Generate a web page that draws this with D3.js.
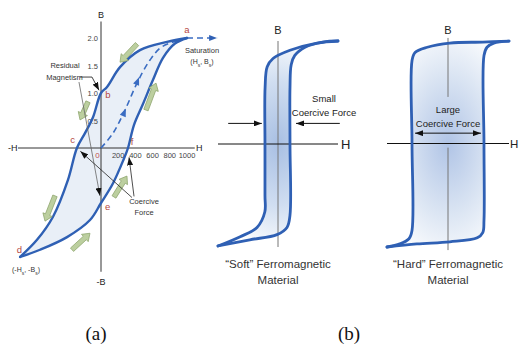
<!DOCTYPE html>
<html>
<head>
<meta charset="utf-8">
<script src="https://cdn.jsdelivr.net/npm/d3@7"></script>
<style>
  body { margin: 0; background: #fff; }
  svg { display: block; }
  .narrow { font-family: "Liberation Sans Narrow", "Liberation Sans", Arial, sans-serif; }
  .sans { font-family: "Liberation Sans", Arial, sans-serif; }
</style>
</head>
<body>
<svg id="svg" width="519" height="349"></svg>
<script>
// ---- panel (a): hysteresis loop, H in A/m, B in T
const upperBranch = [[1000,2.0],[767,1.93],[453,1.78],[221,1.47],[70,1.11],[0,1.0],[-93,0.56],[-186,0.27],[-280,0],[-384,-0.58],[-558,-1.25],[-744,-1.67],[-940,-1.98]]
const lowerBranch = [[-940,-1.98],[-709,-1.85],[-395,-1.62],[-128,-1.31],[0,-1.0],[140,-0.64],[265,-0.2],[314,0],[384,0.42],[488,0.8],[605,1.24],[721,1.64],[860,1.9],[1000,2.0]]
const initialCurve = [[0,0],[140,0.27],[279,0.69],[419,1.18],[570,1.6],[709,1.84],[1000,2.0]]
const saturationLine = [[1000,2.0],[1350,2.0]]
const dashArrows = [[[250,0.57],[292,0.73]], [[405,1.14],[445,1.3]]]
const bTicks = [0.5, 1.0, 1.5, 2.0]
const hTicks = [200, 400, 600, 800, 1000]
const pointLabels = [['a',1000,2.09],['b',81,0.91],['c',-331,0.09],['d',-948,-1.91],['e',76,-1.13],['f',360,0.05]]
const flowArrows = [
  [[419,1.89],[221,1.56]],
  [[-151,0.84],[-244,0.51]],
  [[523,0.69],[640,1.18]],
  [[-535,-0.87],[-651,-1.33]],
  [[-337,-1.85],[-128,-1.55]],
  [[151,-0.89],[302,-0.51]]
]
const residualLeader = [[-244,1.29],[-105,1.29],[-23,1.05]]
const residualLine = [[-256,1.2],[-12,-0.87]]
const coerciveArrows = [[[360,-0.9],[-240,-0.06]], [[384,-0.88],[326,-0.17]]]

// ---- panel (b): soft and hard loops, normalised units
const softDown = [[1,1],[0.65,0.98],[0.2,0.91],[-0.083,0.83],[-0.18,0.75],[-0.215,0.55],[-0.217,0],[-0.217,-0.5],[-0.22,-0.66],[-0.35,-0.81],[-0.63,-0.9],[-1,-0.99]]
const softUp = [[-1,-0.99],[-0.47,-0.93],[-0.017,-0.88],[0.15,-0.81],[0.2,-0.69],[0.2,0],[0.2,0.55],[0.22,0.77],[0.28,0.86],[0.45,0.94],[0.75,0.99],[1,1]]
const hardDown = [[1,0.99],[0.57,0.98],[0.03,0.97],[-0.34,0.93],[-0.54,0.88],[-0.59,0.8],[-0.59,0],[-0.59,-0.84],[-0.64,-0.92],[-0.79,-0.97],[-1,-1]]
const hardUp = [[-1,-1],[-0.51,-0.97],[0.03,-0.95],[0.48,-0.91],[0.57,-0.86],[0.59,-0.74],[0.59,0],[0.59,0.85],[0.64,0.93],[0.75,0.97],[1,0.99]]
const softArrows = [[[-0.83,0.2],[-0.27,0.2]], [[1.03,0.2],[0.3,0.2]]]
const hardArrow = [[-0.54,0.1],[0.54,0.1]]

const blue = '#2f60b4'

const svg = d3.select('#svg')
const defs = svg.append('defs')

const addMarker = (id, color) => {
  defs.append('marker')
    .attr('id', id)
    .attr('markerUnits', 'userSpaceOnUse')
    .attr('viewBox', '0 0 8 6')
    .attr('refX', 8).attr('refY', 3)
    .attr('markerWidth', 8).attr('markerHeight', 6)
    .attr('orient', 'auto-start-reverse')
    .append('path')
    .attr('d', 'M0,0L8,3L0,6Z')
    .attr('fill', color)
}
addMarker('arrBlack', '#111')
addMarker('arrBlue', blue)

const addGradient = (id, r, c0, c1) => {
  const g = defs.append('radialGradient')
    .attr('id', id)
    .attr('cx', 0.5).attr('cy', 0.5).attr('r', r)
  g.append('stop').attr('offset', 0).attr('stop-color', c0)
  g.append('stop').attr('offset', 0.55).attr('stop-color', c1)
  g.append('stop').attr('offset', 1).attr('stop-color', '#ffffff')
}
addGradient('softFill', 0.55, '#a8bfe3', '#d0def1')
addGradient('hardFill', 0.62, '#b0c4e6', '#dbe5f3')

// ======== panel (a) ========
const hx = d3.scaleLinear().domain([-1000, 1000]).range([15, 187])
const by = d3.scaleLinear().domain([-2, 2]).range([258, 38])

const lineA = d3.line()
  .x(d => hx(d[0]))
  .y(d => by(d[1]))
  .curve(d3.curveCatmullRom.alpha(0.5))

const panelA = svg.append('g')

panelA.append('path')
  .attr('d', lineA(upperBranch) + lineA(lowerBranch).replace(/^M/, 'L') + 'Z')
  .attr('fill', '#e9eff7')

// axes
panelA.append('line')
  .attr('x1', hx(-965)).attr('x2', hx(1090))
  .attr('y1', by(0)).attr('y2', by(0))
  .attr('stroke', '#333').attr('stroke-width', 1)
panelA.append('line')
  .attr('x1', hx(0)).attr('x2', hx(0))
  .attr('y1', by(2.3)).attr('y2', by(-2.25))
  .attr('stroke', '#333').attr('stroke-width', 1)

panelA.selectAll('.btick')
  .data(bTicks)
  .enter()
  .append('text')
  .attr('class', 'narrow')
  .attr('x', hx(0) - 3)
  .attr('y', d => by(d) + 3)
  .attr('text-anchor', 'end')
  .attr('font-size', 7.5)
  .attr('fill', '#444')
  .text(d => d.toFixed(1))

panelA.selectAll('.htick')
  .data(hTicks)
  .enter()
  .append('text')
  .attr('class', 'narrow')
  .attr('x', d => hx(d))
  .attr('y', by(0) + 10)
  .attr('text-anchor', 'middle')
  .attr('font-size', 7.5)
  .attr('fill', '#444')
  .text(d => d)

panelA.append('text')
  .attr('class', 'narrow')
  .attr('x', hx(0) - 3.5).attr('y', by(0) + 10)
  .attr('text-anchor', 'middle')
  .attr('font-size', 8)
  .attr('fill', '#c0504d')
  .text('0')

const axisLabels = [['B', hx(0), 18, 'middle'], ['-B', hx(0), 285, 'middle'], ['-H', 8, by(0) + 3, 'start'], ['H', 196, by(0) + 3, 'start']]
panelA.selectAll('.axlab')
  .data(axisLabels)
  .enter()
  .append('text')
  .attr('class', 'sans')
  .attr('x', d => d[1]).attr('y', d => d[2])
  .attr('text-anchor', d => d[3])
  .attr('font-size', 9)
  .attr('fill', '#222')
  .text(d => d[0])

// dashed initial magnetisation curve
panelA.append('path')
  .attr('d', lineA(initialCurve))
  .attr('fill', 'none')
  .attr('stroke', '#3a6cc2')
  .attr('stroke-width', 1.6)
  .attr('stroke-dasharray', '6,4')
panelA.append('path')
  .attr('d', d3.line().x(d => hx(d[0])).y(d => by(d[1]))(saturationLine))
  .attr('fill', 'none')
  .attr('stroke', '#3a6cc2')
  .attr('stroke-width', 1.6)
  .attr('stroke-dasharray', '6,4')
  .attr('marker-end', 'url(#arrBlue)')

panelA.selectAll('.dashHead')
  .data(dashArrows)
  .enter()
  .append('path')
  .attr('d', 'M-4,-3.2L4,0L-4,3.2Z')
  .attr('fill', '#3a6cc2')
  .attr('transform', d => {
    const x1 = hx(d[0][0]), y1 = by(d[0][1]), x2 = hx(d[1][0]), y2 = by(d[1][1])
    const ang = Math.atan2(y2 - y1, x2 - x1) * 180 / Math.PI
    return `translate(${(x1 + x2) / 2},${(y1 + y2) / 2}) rotate(${ang})`
  })

// loop branches
;[upperBranch, lowerBranch].forEach(branch => {
  panelA.append('path')
    .attr('d', lineA(branch))
    .attr('fill', 'none')
    .attr('stroke', blue)
    .attr('stroke-width', 2.4)
    .attr('stroke-linecap', 'round')
})

// green flow arrows
panelA.selectAll('.flow')
  .data(flowArrows)
  .enter()
  .append('path')
  .attr('d', d => {
    const x1 = hx(d[0][0]), y1 = by(d[0][1]), x2 = hx(d[1][0]), y2 = by(d[1][1])
    const L = Math.hypot(x2 - x1, y2 - y1)
    return `M0,-2.3L${L - 7},-2.3L${L - 7},-5L${L},0L${L - 7},5L${L - 7},2.3L0,2.3Z`
  })
  .attr('transform', d => {
    const x1 = hx(d[0][0]), y1 = by(d[0][1]), x2 = hx(d[1][0]), y2 = by(d[1][1])
    return `translate(${x1},${y1}) rotate(${Math.atan2(y2 - y1, x2 - x1) * 180 / Math.PI})`
  })
  .attr('fill', '#bccf9f')
  .attr('stroke', '#8ea56d')
  .attr('stroke-width', 0.7)

// point labels
panelA.selectAll('.plab')
  .data(pointLabels)
  .enter()
  .append('text')
  .attr('class', 'sans')
  .attr('x', d => hx(d[1])).attr('y', d => by(d[2]))
  .attr('text-anchor', 'middle')
  .attr('font-size', 9.5)
  .attr('fill', '#b5483f')
  .text(d => d[0])

// annotations
const plainLine = d3.line().x(d => hx(d[0])).y(d => by(d[1]))
panelA.append('path')
  .attr('d', plainLine(residualLine))
  .attr('fill', 'none')
  .attr('stroke', '#666')
  .attr('stroke-width', 0.8)
  .attr('marker-end', 'url(#arrBlack)')
panelA.append('path')
  .attr('d', plainLine(residualLeader))
  .attr('fill', 'none')
  .attr('stroke', '#111')
  .attr('stroke-width', 0.8)
  .attr('marker-end', 'url(#arrBlack)')
panelA.selectAll('.coer')
  .data(coerciveArrows)
  .enter()
  .append('path')
  .attr('d', d => plainLine(d))
  .attr('fill', 'none')
  .attr('stroke', '#222')
  .attr('stroke-width', 0.8)
  .attr('marker-end', 'url(#arrBlack)')

const smallText = (g, x, y, str) => g.append('text')
  .attr('class', 'narrow')
  .attr('x', x).attr('y', y)
  .attr('text-anchor', 'middle')
  .attr('font-size', 7.5)
  .attr('fill', '#333')
  .text(str)

smallText(panelA, 65, 68, 'Residual')
smallText(panelA, 64.5, 80, 'Magnetism')
smallText(panelA, 144, 204, 'Coercive')
smallText(panelA, 144, 215, 'Force')
smallText(panelA, 202, 53, 'Saturation')

const subText = (g, x, y, parts) => {
  const t = g.append('text')
    .attr('class', 'narrow')
    .attr('x', x).attr('y', y)
    .attr('text-anchor', 'middle')
    .attr('font-size', 7)
    .attr('fill', '#333')
  parts.forEach(p => {
    t.append('tspan')
      .attr('baseline-shift', p[1] ? 'sub' : null)
      .attr('font-size', p[1] ? 5 : null)
      .text(p[0])
  })
}
subText(panelA, 202, 64, [['(H', 0], ['s', 1], [', B', 0], ['s', 1], [')', 0]])
subText(panelA, 26, 272, [['(-H', 0], ['s', 1], [', -B', 0], ['s', 1], [')', 0]])

// ======== panel (b) ========
const drawLoop = (xs, ys, down, up, fillId) => {
  const ln = d3.line().x(d => xs(d[0])).y(d => ys(d[1])).curve(d3.curveCatmullRom.alpha(0.5))
  const g = svg.append('g')
  g.append('path')
    .attr('d', ln(down) + ln(up).replace(/^M/, 'L') + 'Z')
    .attr('fill', `url(#${fillId})`)
  return { g, ln }
}

const sx = d3.scaleLinear().domain([-1, 1]).range([218, 338])
const sy = d3.scaleLinear().domain([-1, 1]).range([247, 41])
const soft = drawLoop(sx, sy, softDown, softUp, 'softFill')
soft.g.append('line')
  .attr('x1', sx(0)).attr('x2', sx(0)).attr('y1', sy(1)).attr('y2', sy(-1))
  .attr('stroke', '#777').attr('stroke-width', 1)
soft.g.append('line')
  .attr('x1', sx(-1)).attr('x2', sx(1)).attr('y1', sy(0)).attr('y2', sy(0))
  .attr('stroke', '#111').attr('stroke-width', 1)
;[softDown, softUp].forEach(b => {
  soft.g.append('path').attr('d', soft.ln(b))
    .attr('fill', 'none').attr('stroke', blue).attr('stroke-width', 2.8).attr('stroke-linecap', 'round')
})
soft.g.selectAll('.sarr')
  .data(softArrows)
  .enter()
  .append('line')
  .attr('x1', d => sx(d[0][0])).attr('y1', d => sy(d[0][1]))
  .attr('x2', d => sx(d[1][0])).attr('y2', d => sy(d[1][1]))
  .attr('stroke', '#111').attr('stroke-width', 1)
  .attr('marker-end', 'url(#arrBlack)')

const sh = d3.scaleLinear().domain([-1, 1]).range([387, 509])
const hy = d3.scaleLinear().domain([-1, 1]).range([247, 40])
const hard = drawLoop(sh, hy, hardDown, hardUp, 'hardFill')
;[[1.02, 0.45], [-0.04, -1.03]].forEach(seg => {
  hard.g.append('line')
    .attr('x1', sh(0)).attr('x2', sh(0)).attr('y1', hy(seg[0])).attr('y2', hy(seg[1]))
    .attr('stroke', '#777').attr('stroke-width', 1)
})
hard.g.append('line')
  .attr('x1', sh(-1)).attr('x2', sh(1)).attr('y1', hy(0)).attr('y2', hy(0))
  .attr('stroke', '#111').attr('stroke-width', 1)
;[hardDown, hardUp].forEach(b => {
  hard.g.append('path').attr('d', hard.ln(b))
    .attr('fill', 'none').attr('stroke', blue).attr('stroke-width', 2.8).attr('stroke-linecap', 'round')
})
hard.g.append('line')
  .attr('x1', sh(hardArrow[0][0])).attr('y1', hy(hardArrow[0][1]))
  .attr('x2', sh(hardArrow[1][0])).attr('y2', hy(hardArrow[1][1]))
  .attr('stroke', '#111').attr('stroke-width', 1)
  .attr('marker-start', 'url(#arrBlack)')
  .attr('marker-end', 'url(#arrBlack)')

const bText = (x, y, str, size, anchor) => svg.append('text')
  .attr('class', 'sans')
  .attr('x', x).attr('y', y)
  .attr('text-anchor', anchor || 'middle')
  .attr('font-size', size)
  .attr('fill', '#222')
  .text(str)

bText(sx(0), 34, 'B', 11)
bText(sh(0), 34, 'B', 11)
bText(341, sy(0) + 5, 'H', 13, 'start')
bText(510, hy(0) + 4.5, 'H', 11.5, 'start')

const annText = (x, y, str) => svg.append('text')
  .attr('class', 'narrow')
  .attr('x', x).attr('y', y)
  .attr('text-anchor', 'middle')
  .attr('font-size', 9.5)
  .attr('fill', '#222')
  .text(str)
annText(324, 102, 'Small')
annText(324, 116, 'Coercive Force')
annText(448, 113, 'Large')
annText(448, 127, 'Coercive Force')

bText(sx(0), 268, '\u201CSoft\u201D Ferromagnetic', 11.5).attr('fill', '#333')
bText(sx(0), 284, 'Material', 11.5).attr('fill', '#333')
bText(sh(0), 268, '\u201CHard\u201D Ferromagnetic', 11.5).attr('fill', '#333')
bText(sh(0), 284, 'Material', 11.5).attr('fill', '#333')

// captions
;[['(a)', 96], ['(b)', 349]].forEach(c => {
  svg.append('text')
    .attr('x', c[1]).attr('y', 340)
    .attr('text-anchor', 'middle')
    .attr('font-family', '"Liberation Serif", "Times New Roman", serif')
    .attr('font-size', 19)
    .attr('fill', '#111')
    .text(c[0])
})
</script>
</body>
</html>
